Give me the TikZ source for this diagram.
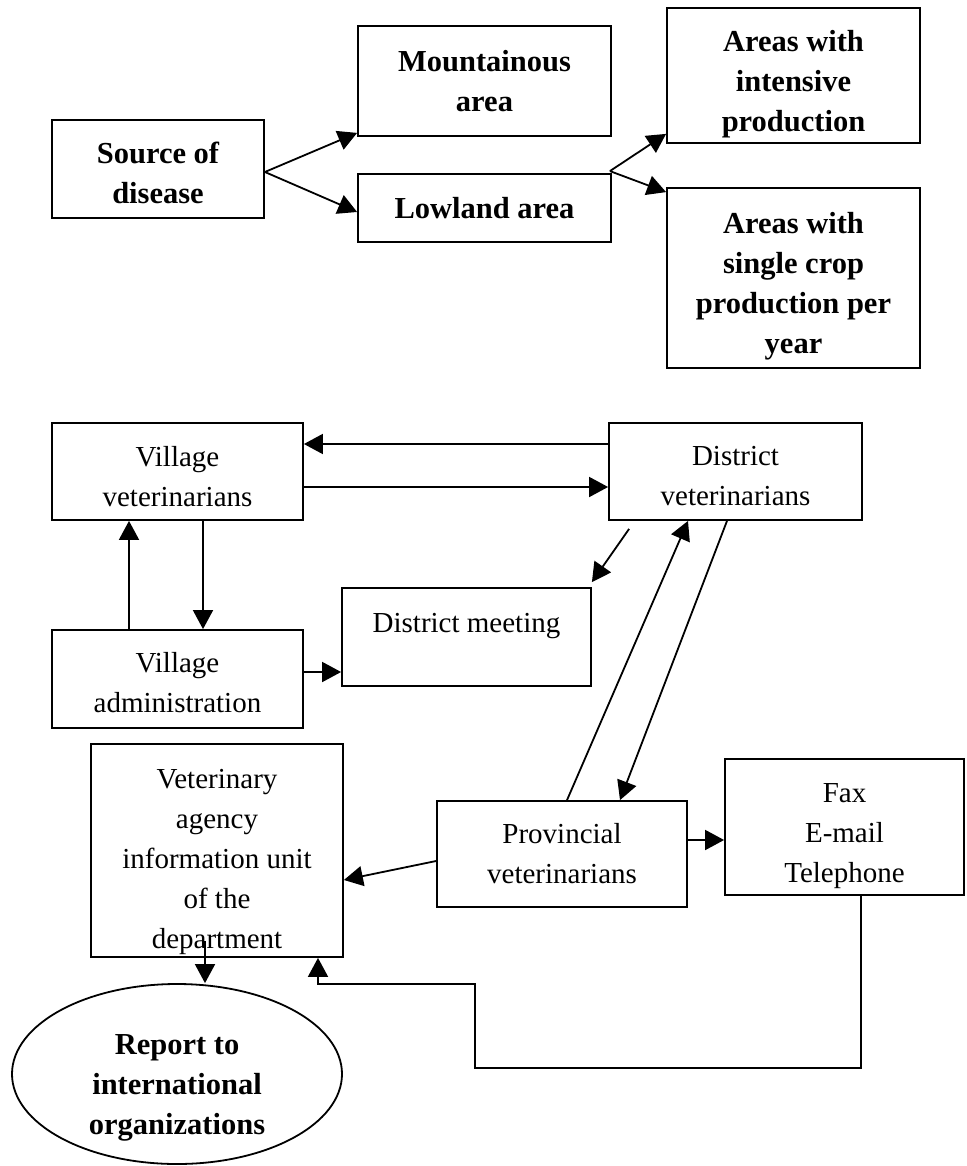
\documentclass[tikz,border=0pt]{standalone}
\usepackage{fontspec}
\setmainfont{Liberation Serif}
\usetikzlibrary{arrows.meta,shapes.geometric}

\tikzset{
  boite/.style={draw, rectangle, line width=0.9pt, inner sep=0pt, align=center,
    font=\fontsize{14.5}{20}\selectfont},
  boitegras/.style={boite, font=\bfseries\fontsize{15.25}{20}\selectfont},
  fleche/.style={line width=0.9pt, -{Triangle[length=9.5pt,width=10pt]}},
}

\begin{document}
\begin{tikzpicture}[x=0.5pt,y=-0.5pt]
\useasboundingbox (0,0) rectangle (966,1166);

%% zones (haut)
\node[boitegras, minimum width=106pt, minimum height=49pt, text height=34.4pt] (src) at (158,169) {Source of\\disease};
\node[boitegras, minimum width=126.5pt, minimum height=55pt] (mont) at (484.5,81) {Mountainous\\area};
\node[boitegras, minimum width=126.5pt, minimum height=34pt] (low) at (484.5,208) {Lowland area};
\node[boitegras, minimum width=126.5pt, minimum height=67.5pt, text height=59.3pt] (inten) at (793.5,75.5) {Areas with\\intensive\\production};
\node[boitegras, minimum width=126.5pt, minimum height=90pt, text height=78.3pt] (single) at (793.5,278) {Areas with\\single crop\\production per\\year};

\draw[fleche] ([yshift=-1.5pt]src.east) -- ([yshift=2pt]mont.south west);
\draw[fleche] ([yshift=-1.5pt]src.east) -- ([yshift=-2pt]low.west);
\draw[fleche] ([shift={(-1pt,1pt)}]low.north east) -- ([yshift=5pt]inten.south west);
\draw[fleche] ([shift={(-1pt,1pt)}]low.north east) -- ([yshift=-2.5pt]single.north west);

%% reseau (bas)
\node[boite, minimum width=125.5pt, minimum height=48.5pt, text height=34.9pt] (vilvet) at (177.5,471.5) {Village\\veterinarians};
\node[boite, minimum width=126.5pt, minimum height=48.5pt, text height=33.9pt] (disvet) at (735.5,471.5) {District\\veterinarians};
\node[boite, minimum width=125.5pt, minimum height=49pt, text height=33.9pt] (viladm) at (177.5,679) {Village\\administration};
\node[boite, minimum width=124.5pt, minimum height=49pt, text height=35.9pt] (dismeet) at (466.5,637) {District meeting\\~};
\node[boite, minimum width=126pt, minimum height=106.5pt, text height=100.6pt] (vetag) at (217,850.5) {Veterinary\\agency\\information unit\\of the\\department};
\node[boite, minimum width=125pt, minimum height=53pt] (prov) at (562,854) {Provincial\\veterinarians};
\node[boite, minimum width=119.5pt, minimum height=68pt, text height=58.6pt] (fax) at (844.5,827) {Fax\\E-mail\\Telephone};
\node[ellipse, draw, line width=0.9pt, inner sep=0pt, align=center, minimum width=165pt, minimum height=90pt,
  text height=60pt, text depth=0pt, font=\bfseries\fontsize{15.25}{20}\selectfont] (report) at (177,1074) {Report to\\international\\organizations};

%% fleches
\draw[fleche] ([yshift=13.75pt]disvet.west) -- ([yshift=13.75pt]vilvet.east);
\draw[fleche] ([yshift=-7.75pt]vilvet.east) -- ([yshift=-7.75pt]disvet.west);
\draw[fleche] ([xshift=12.75pt]vilvet.south) -- ([xshift=12.75pt]viladm.north);
\draw[fleche] ([xshift=-24.25pt]viladm.north) -- ([xshift=-24.25pt]vilvet.south);
\coordinate (ad) at ([yshift=3.5pt]viladm.east);
\draw[fleche] (ad) -- (ad -| dismeet.west);
\draw[fleche] ([shift={(10.5pt,-4pt)}]disvet.south west) -- ([yshift=2.5pt]dismeet.north east);
\draw[fleche] ([xshift=2.5pt]prov.north) -- ([xshift=-23.75pt]disvet.south);
\draw[fleche] ([xshift=-4.25pt]disvet.south) -- ([xshift=29pt]prov.north);
\draw[fleche] ([yshift=-3.5pt]prov.west) -- ([yshift=-14.75pt]vetag.east);
\coordinate (pf) at ([yshift=7pt]prov.east);
\draw[fleche] (pf) -- (pf -| fax.west);
\coordinate (vr) at ([shift={(-6pt,8.5pt)}]vetag.south);
\draw[fleche] (vr) -- (vr |- report.north);

%% retour fax
\coordinate (r1) at (475,1068);
\coordinate (r2) at (475,984);
\draw[fleche] ([xshift=8.25pt]fax.south) |- (r1) -- (r2) -| ([xshift=50.5pt]vetag.south);

\end{tikzpicture}
\end{document}
